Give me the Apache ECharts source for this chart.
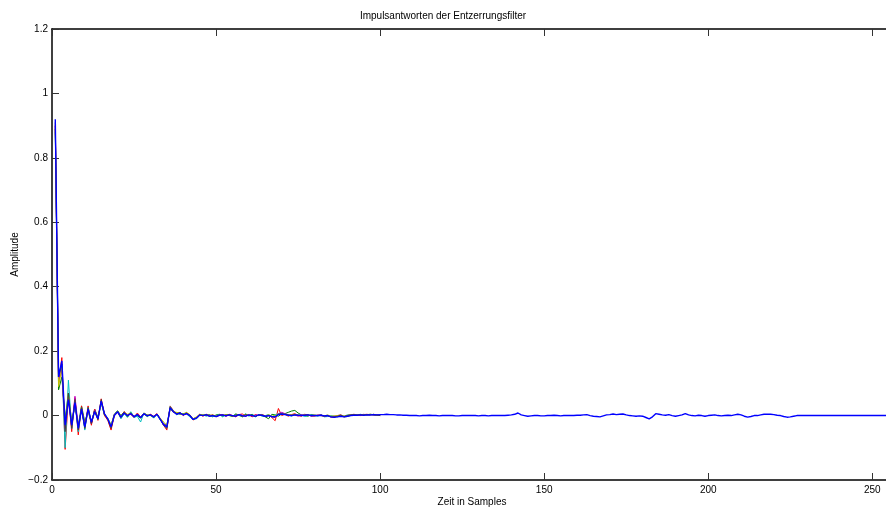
<!DOCTYPE html>
<html>
<head>
    <meta charset="utf-8">
    <title>Impulsantworten der Entzerrungsfilter</title>
    <script src="https://cdn.jsdelivr.net/npm/echarts@6/dist/echarts.min.js"></script>
    <style>
        html, body { margin: 0; padding: 0; background: #fff; }
    </style>
</head>
<body>
    <div id="main" style="width: 886px;height:508px;"></div>
    <script type="text/javascript">
        // Impulsantworten, Index ab 1 (Samples)
        var hGreen = [
            0.89, 0.08, 0.12, -0.01, 0.07, -0.02, 0.03, -0.03, 0.03, -0.02,
            0.015, -0.025, 0.02, -0.005, 0.04, 0.0, -0.01, -0.03, 0.005, 0.015,
            0.0, 0.012, -0.005, 0.01, -0.002, 0.0, -0.008, 0.008, 0.002, 0.0,
            -0.006, 0.005, -0.01, -0.025, -0.03, 0.022, 0.01, 0.008, 0.004, 0.006,
            0.008, -0.002, -0.01, -0.006, 0.003, 0.002, 0.0, 0.003, -0.004, 0.002,
            0.004, -0.002, 0.003, 0.0, -0.003, 0.005, 0.002, -0.004, 0.003, 0.0,
            0.004, -0.003, 0.002, 0.0, -0.004, -0.01, 0.004, 0.002, -0.002, 0.005,
            0.006, 0.01, 0.014, 0.016, 0.008, 0.002, 0.0, -0.002, 0.003, 0.001,
            0.0, 0.002, -0.002, 0.0, -0.003, -0.004, -0.002, 0.0, -0.004, -0.003,
            0.0, 0.002, 0.001, 0.003, 0.002, 0.003, 0.004, 0.003, 0.002, 0.0
        ];
        var hRed = [
            0.90, 0.10, 0.18, -0.105, 0.06, -0.05, 0.055, -0.06, 0.03, -0.04,
            0.03, -0.03, 0.02, -0.015, 0.052, 0.0, -0.015, -0.045, 0.0, 0.01,
            -0.008, 0.012, 0.002, 0.004, -0.006, 0.008, -0.004, 0.006, -0.002, 0.004,
            -0.002, 0.006, -0.012, -0.03, -0.045, 0.03, 0.015, 0.005, 0.01, 0.0,
            0.008, 0.002, -0.014, -0.006, 0.004, -0.002, 0.004, 0.0, 0.002, -0.004,
            0.002, 0.003, -0.002, 0.004, 0.0, -0.004, 0.003, 0.005, -0.002, 0.002,
            -0.004, 0.003, 0.0, 0.004, -0.002, 0.002, -0.006, -0.016, 0.022, 0.0,
            0.004, -0.002, 0.003, 0.006, 0.0, -0.002, 0.004, 0.002, 0.0, -0.002,
            0.002, 0.0, -0.003, 0.0, -0.004, -0.005, -0.002, 0.002, -0.004, 0.0,
            0.002, 0.004, 0.002, 0.0, 0.003, 0.004, 0.002, 0.004, 0.002, 0.0
        ];
        var hCyan = [
            0.88, 0.13, 0.16, -0.10, 0.11, -0.04, 0.045, -0.05, 0.025, -0.045,
            0.025, -0.02, 0.015, -0.012, 0.04, 0.005, -0.008, -0.03, 0.0, 0.012,
            -0.01, 0.005, -0.005, 0.012, -0.006, -0.002, -0.02, 0.008, -0.004, 0.003,
            -0.008, 0.004, -0.014, -0.025, -0.038, 0.028, 0.014, 0.002, 0.009, 0.003,
            0.005, -0.004, -0.012, -0.01, 0.0, 0.003, -0.002, 0.001, -0.003, 0.0,
            0.003, -0.004, 0.002, 0.001, -0.002, 0.004, 0.0, -0.003, 0.006, -0.002,
            0.002, -0.004, 0.003, -0.002, 0.0, 0.003, -0.004, 0.002, 0.006, 0.008,
            0.004, 0.002, -0.002, 0.003, 0.0, 0.002, -0.003, 0.0, 0.002, 0.0,
            -0.002, 0.002, -0.004, -0.003, 0.0, -0.002, -0.004, 0.0, -0.002, 0.002,
            0.003, 0.001, 0.002, 0.004, 0.002, 0.003, 0.002, 0.004, 0.001, 0.0
        ];
        var hMagenta = [
            0.90, 0.11, 0.14, -0.04, 0.06, -0.035, 0.06, -0.035, 0.02, -0.03,
            0.02, -0.025, 0.018, -0.01, 0.045, 0.006, -0.012, -0.035, 0.004, 0.01,
            -0.004, 0.006, 0.0, 0.006, -0.002, 0.004, -0.006, 0.006, 0.0, 0.002,
            -0.003, 0.004, -0.01, -0.026, -0.032, 0.022, 0.01, 0.006, 0.007, 0.002,
            0.005, 0.0, -0.01, -0.007, 0.002, 0.0, 0.002, -0.002, 0.001, -0.003,
            0.0, 0.003, -0.002, 0.002, 0.0, -0.002, 0.004, 0.0, -0.002, 0.003,
            -0.002, 0.002, 0.0, 0.002, -0.003, 0.0, -0.004, -0.006, 0.006, 0.01,
            0.006, 0.002, 0.0, 0.002, -0.002, 0.003, 0.0, 0.002, -0.002, 0.0,
            0.0, 0.002, -0.002, 0.0, -0.004, -0.002, 0.0, 0.002, -0.003, 0.0,
            0.002, 0.003, 0.002, 0.001, 0.004, 0.002, 0.003, 0.002, 0.001, 0.0
        ];
        var hYellow = [
            0.89, 0.09, 0.15, -0.03, 0.07, -0.03, 0.04, -0.04, 0.02, -0.03,
            0.015, -0.02, 0.01, -0.008, 0.04, 0.004, -0.01, -0.03, 0.002, 0.014,
            -0.003, 0.01, 0.004, 0.008, -0.004, 0.002, -0.004, 0.004, 0.002, 0.001,
            -0.004, 0.003, -0.008, -0.02, -0.03, 0.02, 0.012, 0.01, 0.008, 0.004,
            0.01, 0.003, -0.01, -0.004, 0.004, 0.002, 0.003, 0.0, 0.002, -0.001,
            0.002, 0.0, 0.003, 0.002, -0.002, 0.002, 0.003, -0.002, 0.004, 0.001,
            0.0, -0.002, 0.002, 0.003, -0.002, 0.003, -0.002, 0.0, 0.004, 0.006,
            0.004, 0.001, 0.002, 0.004, 0.002, 0.0, 0.002, 0.001, 0.0, 0.002,
            0.0, 0.001, -0.001, 0.002, -0.002, -0.001, 0.0, 0.002, -0.002, 0.001,
            0.002, 0.003, 0.002, 0.003, 0.003, 0.002, 0.004, 0.002, 0.001, 0.0
        ];
        var hBlack = [
            0.91, 0.12, 0.16, -0.05, 0.07, -0.04, 0.05, -0.045, 0.025, -0.04,
            0.025, -0.025, 0.015, -0.012, 0.05, 0.004, -0.012, -0.04, 0.002, 0.012,
            -0.006, 0.01, -0.002, 0.008, -0.004, 0.004, -0.008, 0.006, -0.002, 0.003,
            -0.005, 0.005, -0.012, -0.03, -0.04, 0.026, 0.013, 0.006, 0.009, 0.002,
            0.007, 0.001, -0.012, -0.008, 0.002, 0.0, 0.002, -0.002, 0.001, -0.003,
            0.002, 0.0, 0.001, 0.002, -0.002, 0.002, 0.002, -0.003, 0.003, 0.0,
            0.001, -0.003, 0.002, 0.001, -0.003, 0.0, -0.004, -0.004, 0.004, 0.006,
            0.004, 0.002, 0.001, 0.003, 0.001, 0.0, 0.001, 0.002, -0.001, 0.0,
            0.0, 0.001, -0.002, 0.0, -0.004, -0.004, -0.002, 0.001, -0.003, 0.0,
            0.002, 0.003, 0.002, 0.003, 0.002, 0.003, 0.003, 0.002, 0.001, 0.0
        ];
        var hBlue = [
            0.92, 0.12, 0.17, -0.03, 0.05, -0.03, 0.04, -0.04, 0.02, -0.035,
            0.02, -0.02, 0.012, -0.01, 0.045, 0.005, -0.01, -0.035, 0.0, 0.012,
            -0.005, 0.008, 0.0, 0.006, -0.004, 0.003, -0.006, 0.005, 0.0, 0.002,
            -0.004, 0.004, -0.012, -0.028, -0.035, 0.024, 0.012, 0.004, 0.008, 0.002,
            0.006, 0.0, -0.012, -0.008, 0.002, 0.0, 0.003, -0.002, 0.0, -0.003,
            0.001, 0.002, -0.001, 0.002, 0.0, -0.002, 0.003, 0.0, -0.002, 0.002,
            0.0, -0.002, 0.002, 0.001, -0.002, 0.0, -0.003, -0.004, 0.003, 0.005,
            0.003, 0.001, 0.0, 0.002, 0.001, 0.0, 0.001, 0.002, 0.0, 0.0,
            0.0, 0.001, -0.001, 0.0, -0.004, -0.005, -0.004, -0.002, -0.004, -0.002,
            0.0, 0.001, 0.001, 0.002, 0.001, 0.002, 0.002, 0.003, 0.002, 0.003,
            0.003, 0.004, 0.003, 0.003, 0.002, 0.002, 0.001, 0.001, 0.0, 0.0,
            0.0, -0.001, 0.0, 0.0, 0.001, 0.0, 0.0, -0.001, 0.0, 0.0,
            0.0, 0.0, -0.001, -0.001, 0.0, 0.0, 0.0, 0.0, 0.0, -0.001,
            0.0, 0.0, -0.001, 0.0, 0.0, 0.0, 0.0, 0.0, 0.001, 0.002,
            0.004, 0.008, 0.002, 0.0, -0.002, -0.001, 0.0, 0.0, -0.001, -0.001,
            0.0, 0.0, 0.001, 0.0, -0.001, 0.0, 0.0, 0.0, 0.0, 0.001,
            0.001, 0.002, 0.003, 0.0, -0.002, -0.003, -0.004, -0.001, 0.002, 0.003,
            0.005, 0.003, 0.004, 0.005, 0.002, 0.0, -0.001, -0.002, -0.001, -0.002,
            -0.006, -0.01, -0.004, 0.006, 0.004, 0.002, 0.001, 0.003, 0.0, -0.002,
            0.0, 0.002, 0.006, 0.002, 0.0, -0.001, 0.001, 0.0, -0.002, 0.0,
            0.001, 0.002, 0.0, -0.001, 0.0, 0.001, 0.0, 0.002, 0.004, 0.002,
            -0.002, -0.005, -0.003, 0.0, 0.0, 0.002, 0.004, 0.004, 0.004, 0.003,
            0.001, 0.0, -0.003, -0.005, -0.004, -0.002, 0.0, 0.0, 0.0, 0.0,
            0, 0, 0, 0, 0, 0, 0, 0, 0, 0,
            0, 0, 0, 0, 0, 0, 0, 0, 0, 0,
            0, 0, 0, 0, 0, 0
        ];

        var filterNames = ['Filter g', 'Filter r', 'Filter c', 'Filter m', 'Filter y', 'Filter k', 'Filter b'];
        var filterColors = ['#008000', '#ff0000', '#00bfbf', '#bf00bf', '#bfbf00', '#404040', '#0000ff'];
        var filterData = [hGreen, hRed, hCyan, hMagenta, hYellow, hBlack, hBlue];

        var fontFam = 'Liberation Sans, Arial, Helvetica, sans-serif';

        function toPoints(arr) {
            var pts = [];
            for (var i = 0; i < arr.length; i++) {
                pts.push([i + 1, arr[i]]);
            }
            return pts;
        }

        var seriesList = [];
        for (var k = 0; k < filterData.length; k++) {
            seriesList.push({
                name: filterNames[k],
                type: 'line',
                data: toPoints(filterData[k]),
                showSymbol: false,
                symbol: 'none',
                lineStyle: {
                    color: filterColors[k],
                    width: k === filterData.length - 1 ? 1.4 : 1
                },
                itemStyle: { color: filterColors[k] },
                z: 2 + k
            });
        }

        var myChart = echarts.init(document.getElementById('main'));

        var option = {
            animation: false,
            backgroundColor: '#ffffff',
            title: {
                text: 'Impulsantworten der Entzerrungsfilter',
                left: 'center',
                top: 6,
                textStyle: {
                    fontFamily: fontFam,
                    fontSize: 10,
                    fontWeight: 'normal',
                    color: '#000'
                }
            },
            grid: {
                left: 52,
                right: -6,
                top: 29,
                bottom: 28,
                containLabel: false,
                outerBoundsMode: 'none'
            },
            xAxis: [{
                type: 'value',
                min: 0,
                max: 256,
                interval: 50,
                name: 'Zeit in Samples',
                nameLocation: 'middle',
                nameGap: 17,
                nameMoveOverlap: false,
                nameTextStyle: { fontFamily: fontFam, fontSize: 10, color: '#000' },
                axisLine: { show: true, onZero: false, lineStyle: { color: '#000', width: 1.5 } },
                axisTick: { show: true, inside: true, length: 7, lineStyle: { color: '#333', width: 1 } },
                axisLabel: {
                    fontFamily: fontFam, fontSize: 10, color: '#000', margin: 5,
                    showMaxLabel: false,
                    formatter: function (v) { return v % 50 === 0 ? String(v) : ''; }
                },
                splitLine: { show: false }
            }, {
                type: 'value',
                position: 'top',
                min: 0,
                max: 256,
                interval: 50,
                axisLine: { show: true, onZero: false, lineStyle: { color: '#000', width: 1.5 } },
                axisTick: { show: true, inside: true, length: 7, lineStyle: { color: '#333', width: 1 } },
                axisLabel: { show: false },
                splitLine: { show: false }
            }],
            yAxis: [{
                type: 'value',
                min: -0.2,
                max: 1.2,
                interval: 0.2,
                name: 'Amplitude',
                nameLocation: 'middle',
                nameGap: 32,
                nameMoveOverlap: false,
                nameTextStyle: { fontFamily: fontFam, fontSize: 10, color: '#000' },
                axisLine: { show: true, onZero: false, lineStyle: { color: '#000', width: 1.5 } },
                axisTick: { show: true, inside: true, length: 7, lineStyle: { color: '#333', width: 1 } },
                axisLabel: {
                    fontFamily: fontFam,
                    fontSize: 10,
                    color: '#000',
                    margin: 4,
                    formatter: function (v) {
                        var s = String(Math.round(v * 10) / 10);
                        return s.replace('-', '\u2212');
                    }
                },
                splitLine: { show: false }
            }],
            series: seriesList
        };

        myChart.setOption(option);
    </script>
</body>
</html>
